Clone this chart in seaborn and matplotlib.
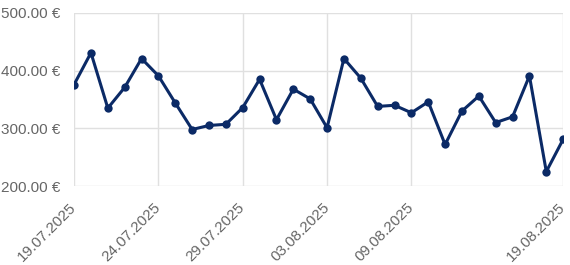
import matplotlib
matplotlib.use("Agg")
import matplotlib.pyplot as plt
import seaborn as sns
import pandas as pd

dates = ["19.07.2025", "20.07.2025", "21.07.2025", "22.07.2025", "23.07.2025",
         "24.07.2025", "25.07.2025", "26.07.2025", "27.07.2025", "28.07.2025",
         "29.07.2025", "30.07.2025", "31.07.2025", "01.08.2025", "02.08.2025",
         "03.08.2025", "04.08.2025", "05.08.2025", "06.08.2025", "07.08.2025",
         "09.08.2025", "10.08.2025", "11.08.2025", "12.08.2025", "13.08.2025",
         "14.08.2025", "15.08.2025", "16.08.2025", "18.08.2025", "19.08.2025"]
prices = [376, 431, 335, 371, 421, 391, 344, 298, 305, 307,
          336, 385, 315, 368, 351, 301, 421, 387, 338, 340,
          327, 346, 272, 330, 356, 310, 320, 391, 225, 281]
tick_dates = ["19.07.2025", "24.07.2025", "29.07.2025", "03.08.2025", "09.08.2025", "19.08.2025"]
y_ticks = [200, 300, 400, 500]

df = pd.DataFrame({"pos": range(len(dates)), "date": dates, "price": prices})

sns.set_style("white")
plt.rcParams["font.family"] = ["Liberation Sans", "DejaVu Sans"]

fig = plt.figure(figsize=(5.7, 2.65), dpi=100)
ax = fig.add_axes([0.130, 0.298, 0.858, 0.653])

grid_c = "#e0e0e0"
sns.lineplot(data=df, x="pos", y="price", ax=ax, color="#0b2a66",
             linewidth=2.2, marker="o", markersize=6, markeredgewidth=0, zorder=3)

tick_pos = [dates.index(d) for d in tick_dates]
ax.set_xticks(tick_pos)
ax.set_xticklabels(tick_dates, rotation=45, ha="right", va="center",
                   rotation_mode="anchor")
ax.set_yticks(y_ticks)
ax.set_yticklabels([f"{v:.2f} €" for v in y_ticks])
ax.set_xlim(0, len(dates) - 1)
ax.set_ylim(200, 500)
ax.set_xlabel("")
ax.set_ylabel("")
ax.grid(True, color=grid_c, linewidth=1)
ax.set_axisbelow(True)
for s in ax.spines.values():
    s.set_visible(False)
ax.tick_params(axis="both", colors=grid_c, labelcolor="#666666", labelsize=11,
               length=8, width=1, pad=2)
ax.tick_params(axis="x", pad=6)
fig.savefig("out.png", dpi=100)
